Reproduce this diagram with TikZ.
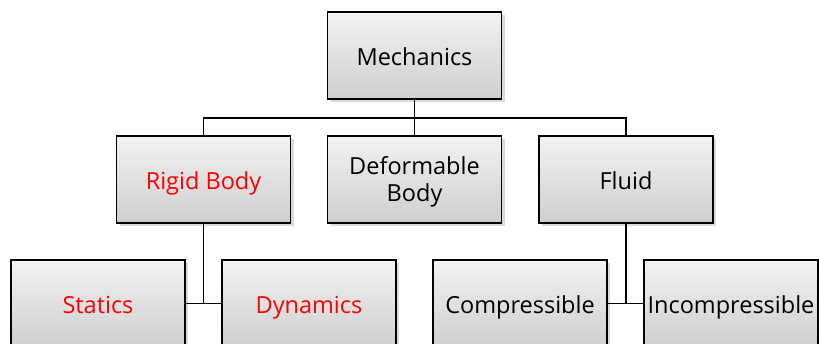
\documentclass[tikz,border=0pt]{standalone}
\usepackage{fontspec}
\setmainfont{Open Sans}
\usetikzlibrary{shadows}
\begin{document}
\begin{tikzpicture}[x=1pt,y=-1pt,
  boxtext/.style={align=center, font=\fontsize{23.5}{27}\selectfont},
  box/.style={draw=black, line width=1.5pt, top color=gray!10, bottom color=gray!38,
    minimum width=174pt, minimum height=87pt, inner sep=0pt, boxtext,
    text height=19pt, text depth=0pt,
    drop shadow={shadow xshift=3pt, shadow yshift=-3pt, opacity=0.35, fill=gray!80}},
  red text/.style={text=red},
  conn/.style={line width=1.6pt, draw=black}]
\useasboundingbox (0,0) rectangle (819,343);
\clip (0,0) rectangle (819,343);
\node[box] (mech) at (414.5,55.5) {Mechanics};
\node[box, red text] (rigid) at (203.5,179.5) {Rigid Body};
\node[box] (deform) at (414.5,179.5) {};
\node[boxtext, inner sep=0pt] (deformlabel) at ([yshift=-2.5pt]deform.center) {Deformable\\Body};
\node[box] (fluid) at (626,179.5) {Fluid};
\node[box, red text] (stat) at (98,303.5) {Statics};
\node[box, red text] (dyn) at (309,303.5) {Dynamics};
\node[box] (comp) at (520,303.5) {Compressible};
\node[box] (incomp) at (731,303.5) {Incompressible};
\coordinate (bus) at (414.5,118);
\draw[conn] (mech.south) -- (deform.north);
\draw[conn] (rigid.north) |- (bus) -| (fluid.north);
\draw[conn] (rigid.south) |- (stat.east);
\draw[conn] (rigid.south) |- (dyn.west);
\draw[conn] (fluid.south) |- (comp.east);
\draw[conn] (fluid.south) |- (incomp.west);
\end{tikzpicture}
\end{document}
